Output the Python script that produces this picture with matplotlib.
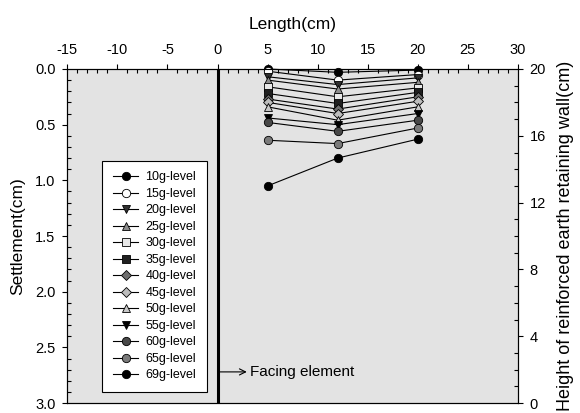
import matplotlib
matplotlib.use("Agg")
import matplotlib.pyplot as plt
from matplotlib.ticker import MultipleLocator, FormatStrFormatter

plt.rcParams["font.family"] = ["Liberation Sans", "DejaVu Sans"]
plt.rcParams["axes.unicode_minus"] = False

# measurement positions behind the facing (cm)
positions = [5, 12, 20]

levels = ["10g-level", "15g-level", "20g-level", "25g-level", "30g-level",
          "35g-level", "40g-level", "45g-level", "50g-level", "55g-level",
          "60g-level", "65g-level", "69g-level"]

# settlement (cm) at each position for every g-level
settlement = [
    [0.00, 0.03, 0.01],
    [0.02, 0.10, 0.05],
    [0.07, 0.14, 0.08],
    [0.10, 0.18, 0.12],
    [0.16, 0.25, 0.17],
    [0.22, 0.31, 0.21],
    [0.27, 0.36, 0.25],
    [0.30, 0.40, 0.29],
    [0.34, 0.46, 0.34],
    [0.44, 0.50, 0.40],
    [0.48, 0.56, 0.46],
    [0.64, 0.67, 0.53],
    [1.05, 0.80, 0.63],
]

markers = ["o", "o", "v", "^", "s", "s", "D", "D", "^", "v", "o", "o", "o"]
face_colors = ["black", "white", "#303030", "#8c8c8c", "#e8e8e8", "#202020",
               "#6e6e6e", "#bdbdbd", "#c8c8c8", "black", "#484848",
               "#7a7a7a", "black"]

fig = plt.figure(figsize=(5.8, 4.13), dpi=100)
ax = fig.add_axes([0.116, 0.024, 0.777, 0.809])
ax.set_facecolor("#e3e3e3")

for label, vals, m, fc in zip(levels, settlement, markers, face_colors):
    ms = 5.5 if m == "D" else 6
    ax.plot(positions, vals, color="black", lw=0.8, marker=m, ms=ms,
            mfc=fc, mec="black", mew=0.6, label=label, clip_on=False, zorder=3)

# facing element
ax.axvline(0, color="black", lw=2.2, zorder=2)
ax.annotate("Facing element", xy=(0.15, 2.72), xytext=(3.2, 2.72),
            fontsize=11, va="center",
            arrowprops=dict(arrowstyle="<-", color="black", lw=0.8,
                            shrinkA=0, shrinkB=0))

ax.set_xlim(-15, 30)
ax.set_ylim(3.0, 0.0)
ax.xaxis.tick_top()
ax.xaxis.set_label_position("top")
ax.set_xlabel("Length(cm)", fontsize=12.5)
ax.set_ylabel("Settlement(cm)", fontsize=12.5)
ax.xaxis.set_label_coords(0.5, 1.12)
ax.yaxis.set_label_coords(-0.093, 0.5)
ax.xaxis.set_major_locator(MultipleLocator(5))
ax.xaxis.set_minor_locator(MultipleLocator(1))
ax.yaxis.set_major_locator(MultipleLocator(0.5))
ax.yaxis.set_minor_locator(MultipleLocator(0.1))
ax.yaxis.set_major_formatter(FormatStrFormatter("%.1f"))
ax.tick_params(which="major", direction="out", length=3.5, width=0.8,
               labelsize=10.5, pad=5)
ax.tick_params(which="minor", direction="in", length=3, width=0.8)
for sp in ax.spines.values():
    sp.set_linewidth(0.8)

ax2 = ax.twinx()
ax2.set_ylim(0, 20)
ax2.yaxis.set_major_locator(MultipleLocator(4))
ax2.yaxis.set_minor_locator(MultipleLocator(1))
ax2.tick_params(which="major", direction="out", length=3.5, width=0.8,
                labelsize=10.5, pad=5)
ax2.tick_params(which="minor", direction="in", length=3, width=0.8)
ax2.set_ylabel("Height of reinforced earth retaining wall(cm)", fontsize=13)
ax2.yaxis.set_label_coords(1.086, 0.5)

leg = ax.legend(loc="upper left", bbox_to_anchor=(0.078, 0.725, 0.233, 0.0),
                mode="expand", fontsize=9, frameon=True, fancybox=False,
                edgecolor="black", framealpha=1, handlelength=2.0,
                handletextpad=0.6, labelspacing=0.36, borderpad=0.85,
                borderaxespad=0)
leg.get_frame().set_linewidth(0.8)

fig.savefig("out.png", dpi=100)
